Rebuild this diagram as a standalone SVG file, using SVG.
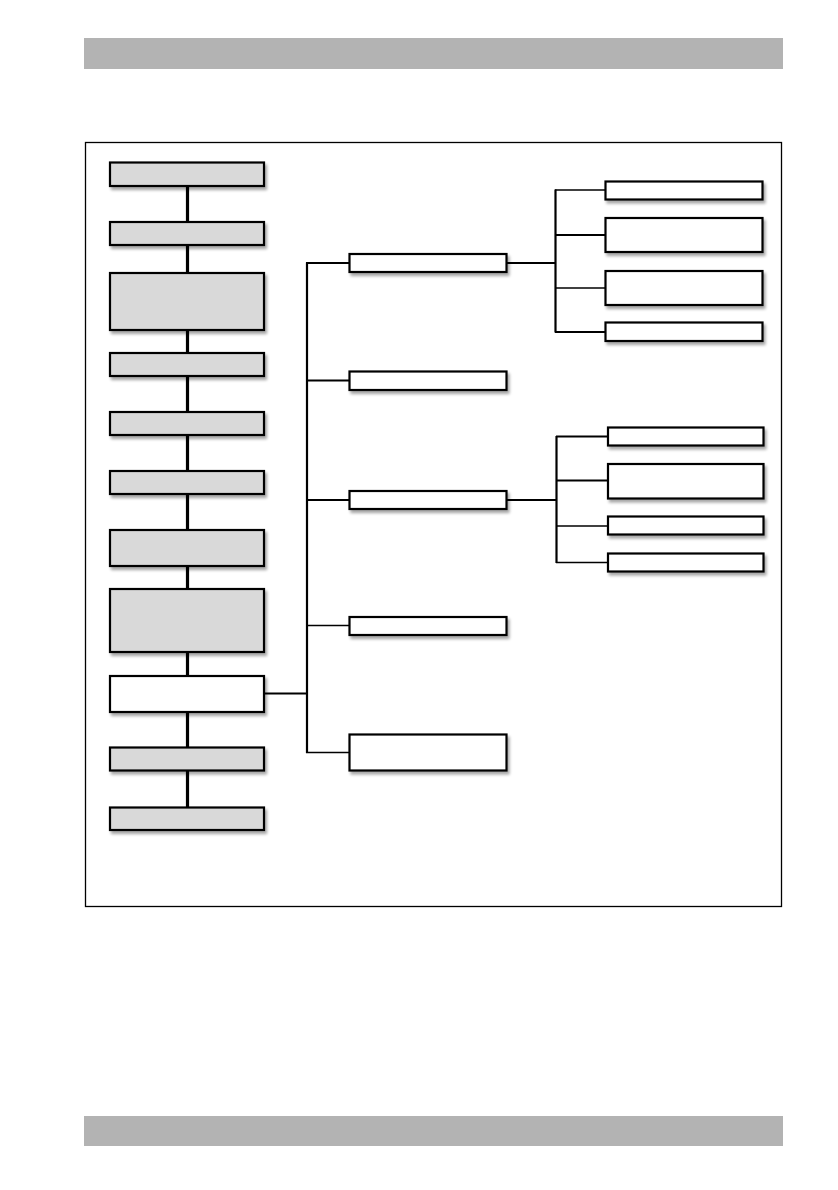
<svg xmlns="http://www.w3.org/2000/svg" width="838" height="1190" viewBox="0 0 838 1190">
<defs>
<filter id="sh" x="-10%" y="-20%" width="130%" height="160%">
<feGaussianBlur in="SourceAlpha" stdDeviation="1.5"/>
<feOffset dx="2" dy="3" result="b"/>
<feComponentTransfer><feFuncA type="linear" slope="0.35"/></feComponentTransfer>
<feMerge><feMergeNode/><feMergeNode in="SourceGraphic"/></feMerge>
</filter>
</defs>
<style>
.bar{fill:#b3b3b3}
.frame{fill:none;stroke:#000;stroke-width:1.3}
.g{fill:#d9d9d9;stroke:#000;stroke-width:2.2;filter:url(#sh)}
.w{fill:#fff;stroke:#000;stroke-width:2.2;filter:url(#sh)}
.c{fill:none;stroke:#000;stroke-linecap:butt}
.k{stroke-width:3.2}
.m{stroke-width:2.2}
.t{stroke-width:1.4}
</style>
<rect width="838" height="1190" fill="#fff"/>
<rect class="bar" x="84" y="38" width="699" height="31"/>
<rect class="bar" x="84" y="1116" width="699" height="30"/>
<rect class="frame" x="85.5" y="142.5" width="696" height="764"/>
<g id="connectors">
<line class="c k" x1="187.5" y1="186" x2="187.5" y2="222"/>
<line class="c k" x1="187.5" y1="245" x2="187.5" y2="273"/>
<line class="c k" x1="187.5" y1="330" x2="187.5" y2="353"/>
<line class="c k" x1="187.5" y1="376" x2="187.5" y2="412"/>
<line class="c k" x1="187.5" y1="435" x2="187.5" y2="471"/>
<line class="c k" x1="187.5" y1="494" x2="187.5" y2="530"/>
<line class="c k" x1="187.5" y1="566" x2="187.5" y2="589"/>
<line class="c k" x1="187.5" y1="652" x2="187.5" y2="676"/>
<line class="c k" x1="187.5" y1="712" x2="187.5" y2="747"/>
<line class="c k" x1="187.5" y1="770" x2="187.5" y2="807"/>
<line class="c m" x1="264" y1="693.5" x2="307" y2="693.5"/>
<line class="c m" x1="307" y1="262.5" x2="307" y2="753"/>
<line class="c m" x1="306" y1="263" x2="350" y2="263"/>
<line class="c m" x1="306" y1="380.5" x2="350" y2="380.5"/>
<line class="c m" x1="306" y1="500" x2="350" y2="500"/>
<line class="c t" x1="306" y1="625.5" x2="350" y2="625.5"/>
<line class="c t" x1="306" y1="752.5" x2="350" y2="752.5"/>
<line class="c m" x1="506" y1="263" x2="556" y2="263"/>
<line class="c m" x1="555.5" y1="189.5" x2="555.5" y2="332.5"/>
<line class="c t" x1="555" y1="190" x2="606" y2="190"/>
<line class="c m" x1="555" y1="235" x2="606" y2="235"/>
<line class="c t" x1="555" y1="288" x2="606" y2="288"/>
<line class="c m" x1="555" y1="332" x2="606" y2="332"/>
<line class="c m" x1="506" y1="500" x2="557" y2="500"/>
<line class="c m" x1="556.5" y1="436" x2="556.5" y2="563"/>
<line class="c m" x1="556" y1="436.5" x2="608" y2="436.5"/>
<line class="c m" x1="556" y1="480.5" x2="608" y2="480.5"/>
<line class="c t" x1="556" y1="526" x2="608" y2="526"/>
<line class="c t" x1="556" y1="562.5" x2="608" y2="562.5"/>
</g>
<g id="L1"><rect class="g" x="110" y="162.5" width="154" height="23.5"/></g>
<g id="L2"><rect class="g" x="110" y="222" width="154" height="23"/></g>
<g id="L3"><rect class="g" x="110" y="273" width="154" height="57"/></g>
<g id="L4"><rect class="g" x="110" y="353" width="154" height="23"/></g>
<g id="L5"><rect class="g" x="110" y="412" width="154" height="23"/></g>
<g id="L6"><rect class="g" x="110" y="471" width="154" height="23"/></g>
<g id="L7"><rect class="g" x="110" y="530" width="154" height="36"/></g>
<g id="L8"><rect class="g" x="110" y="589" width="154" height="63"/></g>
<g id="L9"><rect class="w" x="110" y="676" width="154" height="36"/></g>
<g id="L10"><rect class="g" x="110" y="747.5" width="154" height="23"/></g>
<g id="L11"><rect class="g" x="110" y="807.5" width="154" height="22.5"/></g>
<g id="M1"><rect class="w" x="349.5" y="254" width="157" height="18"/></g>
<g id="M2"><rect class="w" x="349.5" y="371.5" width="157" height="18.5"/></g>
<g id="M3"><rect class="w" x="349.5" y="491" width="157" height="18"/></g>
<g id="M4"><rect class="w" x="349.5" y="617" width="157" height="18"/></g>
<g id="M5"><rect class="w" x="349.5" y="734.5" width="157" height="36"/></g>
<g id="R1"><rect class="w" x="605.5" y="181.5" width="157" height="18"/></g>
<g id="R2"><rect class="w" x="605.5" y="218" width="157" height="34"/></g>
<g id="R3"><rect class="w" x="605.5" y="271" width="157" height="34"/></g>
<g id="R4"><rect class="w" x="605.5" y="322.5" width="157" height="18.5"/></g>
<g id="S1"><rect class="w" x="608" y="427.5" width="155.5" height="18"/></g>
<g id="S2"><rect class="w" x="608" y="464" width="155.5" height="34.5"/></g>
<g id="S3"><rect class="w" x="608" y="516.5" width="155.5" height="18"/></g>
<g id="S4"><rect class="w" x="608" y="553.5" width="155.5" height="18"/></g>
</svg>
